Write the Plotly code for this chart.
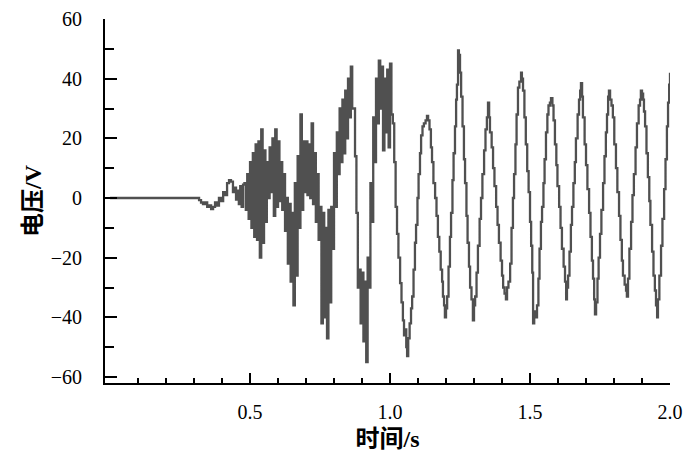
import plotly.graph_objects as go

# 静止段 + 起振段 (时间 s, 电压 V)
t_quiet = [0.000, 0.310, 0.318, 0.325, 0.332, 0.340, 0.347, 0.354, 0.361, 0.368,
           0.375, 0.382, 0.389, 0.396, 0.404, 0.411, 0.418, 0.425, 0.432, 0.439,
           0.446, 0.450, 0.455, 0.460, 0.465, 0.470, 0.475]
v_quiet = [0, 0, -0.7, -1.5, -2, -1.5, -3, -2.5, -3.7, -3,
           -1.5, -2.5, 0, -1, 2, 1, 5, 6, 5.5, 2,
           3.5, -0.5, 2.5, -2, 4, -3, 4.5]

# 强噪声段
t_noisy = [0.480, 0.485, 0.490, 0.495, 0.500, 0.505, 0.510, 0.515, 0.520, 0.525,
           0.530, 0.535, 0.540, 0.545, 0.550, 0.555, 0.560, 0.565, 0.570, 0.575,
           0.580, 0.585, 0.590, 0.595, 0.600, 0.605, 0.610, 0.615, 0.620, 0.625,
           0.630, 0.635, 0.640, 0.645, 0.650, 0.655, 0.660, 0.665, 0.670, 0.675,
           0.680, 0.685, 0.690, 0.695, 0.700, 0.705, 0.710, 0.715, 0.720, 0.725,
           0.730, 0.735, 0.740, 0.745, 0.750, 0.755, 0.760, 0.765, 0.770, 0.775,
           0.780, 0.785, 0.790, 0.795, 0.800, 0.805, 0.810, 0.815, 0.820, 0.825,
           0.830, 0.835, 0.840, 0.845, 0.850, 0.855, 0.860, 0.865, 0.870, 0.875,
           0.880, 0.885, 0.890, 0.895, 0.900, 0.905, 0.910, 0.915, 0.920, 0.925,
           0.930, 0.935, 0.940, 0.945, 0.950, 0.955, 0.960, 0.965, 0.970, 0.975,
           0.980, 0.985, 0.990, 0.995, 1.000, 1.005]
v_noisy = [5, -4, 8, -7, 12, -10, 15, -13, 18, -14,
           19, -20, 23, -15, 16, -8, 12, 0, 17, 2,
           20, -6, 23, -3, 19, -1, 12, -4, 8, -11,
           0, -22, -2, -28, -5, -36, 5, -26, 14, -10,
           28, -4, 19, 2, 19, 1, 18, 0, 25, -2,
           15, -8, 8, -14, -3, -42, -5, -40, -10, -47,
           -4, -35, -3, -17, 15, -3, 22, 8, 30, 12,
           33, 15, 36, 20, 40, 27, 44, 30, 30, 14,
           -5, -30, -24, -42, -25, -48, -28, -55, -20, -30,
           5, -8, 27, 12, 40, 25, 46, 30, 44, 16,
           40, 22, 43, 17, 45, 28]

# 稳定振荡段
t_clean = [1.010, 1.015, 1.020, 1.025, 1.030, 1.036, 1.041, 1.046, 1.050, 1.054,
           1.058, 1.061, 1.065, 1.070, 1.075, 1.079, 1.084, 1.089, 1.093, 1.098,
           1.102, 1.107, 1.111, 1.116, 1.121, 1.127, 1.132, 1.136, 1.141, 1.146,
           1.150, 1.155, 1.161, 1.166, 1.171, 1.176, 1.181, 1.186, 1.189, 1.193,
           1.196, 1.200, 1.204, 1.209, 1.214, 1.218, 1.223, 1.227, 1.232, 1.236,
           1.239, 1.243, 1.246, 1.250, 1.254, 1.259, 1.264, 1.268, 1.273, 1.277,
           1.282, 1.286, 1.291, 1.296, 1.300, 1.304, 1.309, 1.314, 1.320, 1.325,
           1.330, 1.336, 1.341, 1.346, 1.350, 1.354, 1.357, 1.363, 1.368, 1.373,
           1.379, 1.384, 1.389, 1.395, 1.400, 1.404, 1.409, 1.414, 1.418, 1.423,
           1.429, 1.434, 1.439, 1.443, 1.448, 1.452, 1.457, 1.462, 1.468, 1.471,
           1.475, 1.480, 1.485, 1.490, 1.495, 1.500, 1.504, 1.508, 1.511, 1.515,
           1.520, 1.525, 1.530, 1.534, 1.539, 1.543, 1.548, 1.552, 1.557, 1.562,
           1.566, 1.571, 1.575, 1.580, 1.584, 1.589, 1.594, 1.598, 1.604, 1.609,
           1.614, 1.620, 1.625, 1.629, 1.632, 1.636, 1.641, 1.646, 1.650, 1.655,
           1.660, 1.664, 1.670, 1.675, 1.679, 1.682, 1.686, 1.689, 1.695, 1.700,
           1.705, 1.711, 1.716, 1.721, 1.725, 1.729, 1.732, 1.736, 1.741, 1.745,
           1.750, 1.755, 1.761, 1.766, 1.771, 1.775, 1.779, 1.782, 1.786, 1.791,
           1.796, 1.801, 1.807, 1.812, 1.818, 1.823, 1.828, 1.832, 1.838, 1.843,
           1.846, 1.850, 1.855, 1.861, 1.866, 1.871, 1.877, 1.882, 1.888, 1.893,
           1.896, 1.900, 1.904, 1.907, 1.911, 1.916, 1.921, 1.926, 1.930, 1.936,
           1.941, 1.946, 1.950, 1.954, 1.957, 1.962, 1.968, 1.973, 1.979, 1.984,
           1.989, 1.993, 1.997, 2.000]
v_clean = [25, 12, -3, -12, -20, -28.5, -35, -41, -46, -44,
           -50, -53, -47, -42, -37, -33, -24, -15, -9, 0,
           8, 15, 21, 24, 25, 26, 27.5, 26, 23, 17,
           12, 5, 0, -6, -13, -18, -24, -28, -33, -36,
           -40, -37, -33, -23, -13, -5, 6, 15, 24, 33,
           38, 49.5, 48, 42, 34, 24, 13, 5, -6, -15,
           -23, -30, -34, -41, -36, -33, -25, -16, -7, 0,
           8, 16, 23, 27, 32, 27, 22, 17, 10, 4,
           -3, -9, -15, -21, -26, -30, -32, -34, -30, -28,
           -22, -10, 0, 8, 18, 28, 37, 39, 42, 40,
           36, 27, 18, 9, 2, -8, -16, -25, -42, -38,
           -40, -36, -27, -17, -8, -3, 5, 13, 22, 28,
           31, 32, 33.5, 31, 26, 18, 11, 4, -3, -10,
           -17, -23, -28, -34, -30, -26, -18, -9, -3, 5,
           12, 20, 28, 33, 36, 38.5, 34, 27, 18, 11,
           3, -5, -13, -21, -27, -34, -39, -35, -27, -20,
           -12, -4, 5, 14, 22, 28, 34, 36, 33, 31,
           27, 18, 10, 2, -6, -14, -21, -26, -29, -31,
           -33, -27, -17, -8, 1, 8, 17, 25, 31, 33,
           36, 35, 33, 29, 24, 15, 7, -1, -9, -18,
           -26, -31, -36, -40, -34, -26, -16, -7, 3, 13,
           24, 32, 38, 42]

x_ticks = [0.5, 1.0, 1.5, 2.0]
x_labels = ["0.5", "1.0", "1.5", "2.0"]
x_minor = [0.1, 0.2, 0.3, 0.4, 0.6, 0.7, 0.8, 0.9, 1.1, 1.2, 1.3, 1.4,
           1.6, 1.7, 1.8, 1.9]
y_ticks = [-60, -40, -20, 0, 20, 40, 60]
y_minor = [-50, -30, -10, 10, 30, 50]

t = t_quiet + t_noisy + t_clean
v = v_quiet + v_noisy + v_clean

serif = "'Times New Roman', 'Liberation Serif', serif"
title_font = "'Times New Roman', 'Liberation Serif', 'Noto Sans CJK SC', serif"

fig = go.Figure()
# 采样保持的台阶状曲线
fig.add_trace(go.Scatter(x=t, y=v, mode="lines",
                         line=dict(color="#505050", width=2.3, shape="hv"),
                         showlegend=False))

axis_common = dict(
    showline=True, linecolor="black", linewidth=2,
    ticks="inside", tickcolor="black", tickwidth=2,
    showgrid=False, zeroline=False,
    tickfont=dict(family=serif, size=20, color="black"),
)

fig.update_xaxes(
    range=[-0.018, 2.0],
    tickmode="array", tickvals=x_ticks, ticktext=x_labels,
    ticklen=10, ticklabelstandoff=10,
    minor=dict(tickmode="array", tickvals=x_minor, ticks="inside",
               ticklen=5, tickcolor="black", tickwidth=2),
    title=dict(text="<b>时间/s</b>", standoff=8,
               font=dict(family=title_font, size=24, color="black")),
    **axis_common,
)
fig.update_yaxes(
    range=[-62, 60],
    tickmode="array", tickvals=y_ticks,
    ticklen=12, ticklabelstandoff=17,
    minor=dict(tickmode="array", tickvals=y_minor, ticks="inside",
               ticklen=9, tickcolor="black", tickwidth=2),
    title=dict(text="<b>电压/V</b>", standoff=2,
               font=dict(family=title_font, size=24, color="black")),
    **axis_common,
)

# 页面 body 自带 8px 边距，这里扣掉
fig.update_layout(
    width=700, height=463,
    margin=dict(l=97, r=38, t=11, b=88, autoexpand=False),
    plot_bgcolor="white", paper_bgcolor="white",
)

fig.write_html("out.html")
